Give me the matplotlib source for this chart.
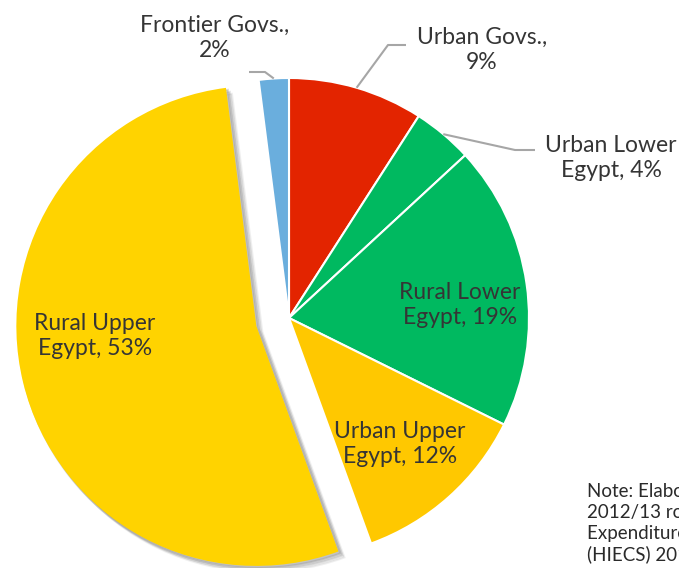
import numpy as np
import matplotlib.pyplot as plt
from matplotlib.patches import Shadow

labels = ['Urban Govs.', 'Urban Lower\nEgypt', 'Rural Lower\nEgypt', 'Urban Upper\nEgypt',
          'Rural Upper\nEgypt', 'Frontier Govs.']
shares = [9, 4, 19, 12, 53, 2]
colors = ['#E32400', '#00B960', '#00B960', '#FFC800', '#FFD300', '#6AAEDD']
explode = [0, 0, 0, 0, 0.14, 0]

W, H = 679, 568
CX, CY, R = 289, 318, 240  # pie centre / radius in pixels


def px(x, y):
    return (x - CX) / R, (CY - y) / R


def main():
    plt.rcParams['font.family'] = ['Lato', 'DejaVu Sans']
    fig = plt.figure(figsize=(W / 100, H / 100), dpi=100)
    ax = fig.add_axes([0, 0, 1, 1])

    wedges, _ = ax.pie(shares, colors=colors, explode=explode, startangle=90,
                       counterclock=False, radius=1,
                       wedgeprops=dict(edgecolor='white', linewidth=1.5))
    ax.set_xlim(-CX / R, (W - CX) / R)
    ax.set_ylim(-(H - CY) / R, CY / R)
    ax.axis('off')

    # soft shadow behind the pulled-out slice
    big = wedges[4]
    big.set_edgecolor('none')
    for k, a in [(0.018, 0.12), (0.012, 0.18), (0.006, 0.25)]:
        sh = Shadow(big, k, -k, color='#808080', alpha=a)
        sh.set_zorder(big.get_zorder() - 0.5)
        ax.add_patch(sh)

    tc = '#353535'
    fs = 16.5

    # inside labels
    inside = {2: (460, 305), 3: (400, 444), 4: (95, 336)}
    for i, (x, y) in inside.items():
        ax.text(*px(x, y), f'{labels[i]}, {shares[i]}%', ha='center', va='center',
                fontsize=fs, color=tc, linespacing=1.2)

    # outside labels with leader lines
    def edge(i, r=1.0):
        w = wedges[i]
        a = np.deg2rad((w.theta1 + w.theta2) / 2)
        return w.center[0] + r * np.cos(a), w.center[1] + r * np.sin(a)

    outside = {
        0: ((482, 50), [(388, 45), (406, 45)]),
        1: ((611, 158), [(515, 150), (535, 150)]),
        5: ((215, 38), [(265, 72), (249, 72)]),
    }
    for i, (pos, bends) in outside.items():
        if i == 1:
            txt = f'{labels[i]}, {shares[i]}%'
        else:
            txt = f'{labels[i]},\n{shares[i]}%'
        ax.text(*px(*pos), txt, ha='center', va='center', fontsize=fs, color=tc,
                linespacing=1.2)
        pts = [edge(i, 1.0)] + [px(*b) for b in bends]
        ax.plot([p[0] for p in pts], [p[1] for p in pts], color='#a6a6a6', lw=1.5,
                solid_capstyle='butt')

    note = ('Note: Elaborated based on\n2012/13 round of Household Income,\n'
            'Expenditure and Consumption Survey\n(HIECS) 2012/13')
    ax.text(*px(587, 483), note, ha='left', va='top', fontsize=13.5, color='#2a2a2a',
            linespacing=1.27)

    fig.savefig('out.png', dpi=100)


if __name__ == '__main__':
    main()
